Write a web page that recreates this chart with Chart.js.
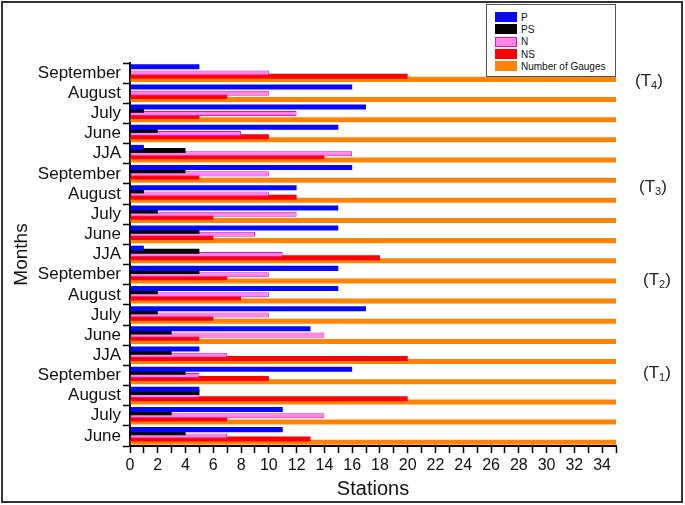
<!DOCTYPE html>
<html>
<head>
<meta charset="utf-8">
<script src="https://cdn.jsdelivr.net/npm/chart.js@4.4.0/dist/chart.umd.min.js"></script>
<style>
  body { margin: 0; background: #fff; font-family: "Liberation Sans", Arial, sans-serif; }
  #wrap { position: relative; width: 685px; height: 505px; }
  #frame { position: absolute; left: 1px; top: 1px; width: 682px; height: 502px; border: 2px solid #333; box-sizing: border-box; pointer-events: none; }
  #legend { position: absolute; left: 486px; top: 4px; width: 130px; height: 73px; border: 1px solid #555; background: #fff; box-sizing: border-box; padding-top: 6px; }
  .row { height: 12.3px; display: flex; align-items: center; font-size: 10px; color: #111; }
  .sw { width: 22px; height: 10px; margin-left: 8px; margin-right: 4px; box-sizing: border-box; }
  .period { position: absolute; font-size: 17px; color: #222; line-height: 17px; }
  .period sub { font-size: 11px; vertical-align: -3px; }
</style>
</head>
<body>
<div id="wrap">
  <canvas id="stationsChart" width="685" height="505"></canvas>
  <div id="legend"></div>
  <div class="period" style="left:635px; top:72px;">(T<sub>4</sub>)</div>
  <div class="period" style="left:639px; top:178px;">(T<sub>3</sub>)</div>
  <div class="period" style="left:643px; top:271px;">(T<sub>2</sub>)</div>
  <div class="period" style="left:643px; top:364px;">(T<sub>1</sub>)</div>
  <div id="frame"></div>
</div>
<script>
// categories, top to bottom as drawn (T4 ... T1)
const months = [
  "September", "August", "July", "June", "JJA",
  "September", "August", "July", "June", "JJA",
  "September", "August", "July", "June", "JJA",
  "September", "August", "July", "June"
];

const pValues  = [5, 16, 17, 15, 1,  16, 12, 15, 15, 1,  15, 15, 17, 13, 5,  16, 5, 11, 11];
const psValues = [0, 0, 1, 2, 4,     4, 1, 2, 5, 5,      5, 2, 2, 3, 3,      4, 5, 3, 4];
const nValues  = [10, 10, 12, 8, 16, 10, 10, 12, 9, 11,  10, 10, 10, 14, 7,  5, 5, 14, 7];
const nsValues = [20, 7, 5, 10, 14,  5, 12, 6, 6, 18,    7, 8, 6, 5, 20,     10, 20, 7, 13];
const gauges   = [35, 35, 35, 35, 35, 35, 35, 35, 35, 35, 35, 35, 35, 35, 35, 35, 35, 35, 35];

const series = [
  { label: "P", data: pValues, bg: "#0808f8", border: "#0808f8", bw: 0 },
  { label: "PS", data: psValues, bg: "#000000", border: "#000000", bw: 0 },
  { label: "N", data: nValues, bg: "#ff84ea", border: "#dd1a9c", bw: 1 },
  { label: "NS", data: nsValues, bg: "#ff0000", border: "#ff0000", bw: 0 },
  { label: "Number of Gauges", data: gauges, bg: "#ff8405", border: "#ff8405", bw: 0 }
];

const legendBox = document.getElementById("legend");
series.forEach((s) => {
  const row = document.createElement("div");
  row.className = "row";
  row.innerHTML = `<span class="sw" style="background:${s.bg};border:${s.bw ? "1.5px solid " + s.border : "none"}"></span>${s.label}`;
  legendBox.appendChild(row);
});

const ctx = document.getElementById("stationsChart");
new Chart(ctx, {
  type: "bar",
  data: {
    labels: months,
    datasets: series.map((s) => ({
      label: s.label,
      data: s.data,
      backgroundColor: s.bg,
      borderColor: s.border,
      borderWidth: s.bw,
      borderSkipped: false,
      categoryPercentage: 0.78,
      barPercentage: 1.6
    }))
  },
  options: {
    indexAxis: "y",
    responsive: false,
    animation: false,
    layout: { padding: { top: 63, right: 69, bottom: 4, left: 8 } },
    plugins: {
      legend: { display: false },
      tooltip: { enabled: false }
    },
    scales: {
      x: {
        min: 0,
        max: 35,
        ticks: {
          stepSize: 1,
          autoSkip: false,
          maxRotation: 0,
          color: "#111",
          font: { family: "Liberation Sans", size: 16 },
          padding: 3,
          callback: (v) => (v % 2 === 0 && v < 35 ? v : "")
        },
        grid: { drawOnChartArea: false, color: "#000", tickLength: 7, tickWidth: 1.5 },
        border: { color: "#000", width: 2 },
        title: {
          display: true,
          text: "Stations",
          color: "#111",
          font: { family: "Liberation Sans", size: 20 },
          padding: { top: 0, bottom: 0 }
        },
        afterFit: (scale) => { scale.height = 55; }
      },
      y: {
        ticks: {
          autoSkip: false,
          color: "#111",
          font: { family: "Liberation Sans", size: 17 },
          padding: 2
        },
        grid: { drawOnChartArea: false, offset: true, color: "#000", tickLength: 7, tickWidth: 1.5 },
        border: { color: "#000", width: 2 },
        title: {
          display: true,
          text: "Months",
          color: "#111",
          font: { family: "Liberation Sans", size: 19 },
          padding: { top: 2, bottom: 0 }
        },
        afterFit: (scale) => { scale.width = 122; }
      }
    }
  }
});
</script>
</body>
</html>
